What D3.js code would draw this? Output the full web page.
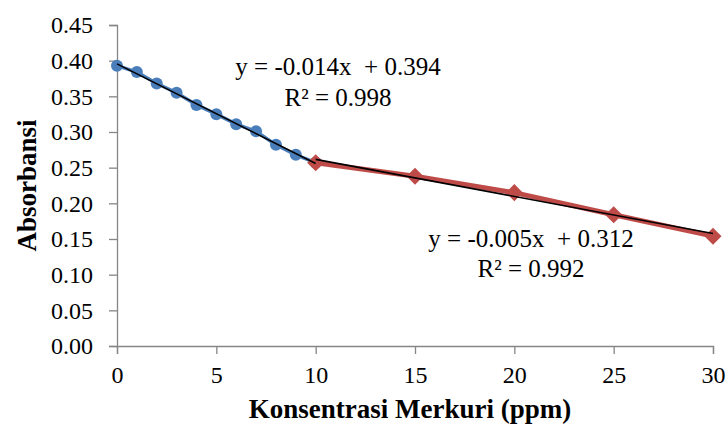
<!DOCTYPE html>
<html>
<head>
<meta charset="utf-8">
<script src="https://cdn.jsdelivr.net/npm/d3@7"></script>
<style>
  body { margin: 0; background: #fff; }
</style>
</head>
<body>
<div id="chart"></div>
<script>
// Data
const blueX = [0, 1, 2, 3, 4, 5, 6, 7, 8, 9, 10];
const blueY = [0.393, 0.384, 0.368, 0.355, 0.338, 0.325, 0.311, 0.301, 0.282, 0.268, 0.257];
const redX = [10, 15, 20, 25, 30];
const redY = [0.257, 0.238, 0.215, 0.184, 0.154];
const xTicks = [0, 5, 10, 15, 20, 25, 30];
const yTicks = [0, 0.05, 0.10, 0.15, 0.20, 0.25, 0.30, 0.35, 0.40, 0.45];
const blueLabel = ["y = -0.014x  + 0.394", "R² = 0.998"];
const redLabel = ["y = -0.005x  + 0.312", "R² = 0.992"];

const FONT = "'Liberation Serif', 'DejaVu Serif', serif";

const W = 728, H = 432;
const margin = { top: 25, right: 15, bottom: 86, left: 117 };
const width = W - margin.left - margin.right,
      height = H - margin.top - margin.bottom;

const svg = d3.select("#chart")
  .append("svg")
    .attr("width", W)
    .attr("height", H)
    .style("font-family", FONT)
  .append("g")
    .attr("transform", `translate(${margin.left},${margin.top})`);

const x = d3.scaleLinear().domain([0, 30]).range([0, width]);
const y = d3.scaleLinear().domain([0, 0.45]).range([height, 0]);

// Y axis
const yAxis = svg.append("g")
  .call(d3.axisLeft(y).tickValues(yTicks).tickFormat(d3.format(".2f")).tickSize(8).tickPadding(16))
  .attr("font-family", null)
  .attr("font-size", null);
yAxis.select(".domain").attr("stroke", "#868686").attr("stroke-width", 1.3);
yAxis.selectAll(".tick line").attr("stroke", "#868686").attr("stroke-width", 1.3);
yAxis.selectAll("text").attr("fill", "#000").style("font-size", "24px").style("font-family", FONT);

// X axis
const xAxis = svg.append("g")
  .attr("transform", `translate(0,${height})`)
  .call(d3.axisBottom(x).tickValues(xTicks).tickSize(8).tickPadding(12))
  .attr("font-family", null)
  .attr("font-size", null);
xAxis.select(".domain").attr("stroke", "#868686").attr("stroke-width", 1.3);
xAxis.selectAll(".tick line").attr("stroke", "#868686").attr("stroke-width", 1.3);
xAxis.selectAll("text").attr("fill", "#000").style("font-size", "24px").style("font-family", FONT);

// Axis titles
svg.append("text")
  .attr("transform", `translate(${-81},${height / 2}) rotate(-90)`)
  .attr("text-anchor", "middle")
  .style("font-family", FONT)
  .style("font-size", "27px")
  .style("font-weight", "bold")
  .text("Absorbansi");

svg.append("text")
  .attr("x", width / 2 - 5)
  .attr("y", height + 72)
  .attr("text-anchor", "middle")
  .style("font-family", FONT)
  .style("font-size", "27px")
  .style("font-weight", "bold")
  .text("Konsentrasi Merkuri (ppm)");

// Series
const line = d3.line().x(d => x(d[0])).y(d => y(d[1]));
const bluePts = blueX.map((v, i) => [v, blueY[i]]);
const redPts = redX.map((v, i) => [v, redY[i]]);

svg.append("path")
  .datum(bluePts)
  .attr("fill", "none")
  .attr("stroke", "#4a7ebb")
  .attr("stroke-width", 3.5)
  .attr("d", line);

svg.append("g").selectAll("circle")
  .data(bluePts)
  .join("circle")
    .attr("cx", d => x(d[0]))
    .attr("cy", d => y(d[1]))
    .attr("r", 6)
    .attr("fill", "#4a7ebb");

svg.append("path")
  .datum(redPts)
  .attr("fill", "none")
  .attr("stroke", "#be4b48")
  .attr("stroke-width", 5)
  .attr("d", line);

svg.append("g").selectAll("path")
  .data(redPts)
  .join("path")
    .attr("transform", d => `translate(${x(d[0])},${y(d[1])})`)
    .attr("d", d3.symbol(d3.symbolDiamond2, 185))
    .attr("fill", "#be4b48");

// Linear trendlines (least squares over each series)
function fit(pts) {
  const mx = d3.mean(pts, d => d[0]), my = d3.mean(pts, d => d[1]);
  const b = d3.sum(pts, d => (d[0] - mx) * (d[1] - my)) / d3.sum(pts, d => (d[0] - mx) ** 2);
  const a = my - b * mx;
  const x0 = d3.min(pts, d => d[0]), x1 = d3.max(pts, d => d[0]);
  return [[x0, a + b * x0], [x1, a + b * x1]];
}

[bluePts, redPts].forEach(pts => {
  svg.append("path")
    .datum(fit(pts))
    .attr("fill", "none")
    .attr("stroke", "#000")
    .attr("stroke-width", 1.6)
    .attr("d", line);
});

// Equation labels
function eqLabel(lines, cx, base, gap) {
  const g = svg.append("g");
  lines.forEach((t, i) => {
    g.append("text")
      .attr("x", cx)
      .attr("y", base + i * gap)
      .attr("text-anchor", "middle")
      .style("font-family", FONT)
      .style("font-size", "25px")
      .style("white-space", "pre")
      .text(t);
  });
}
eqLabel(blueLabel, 338 - margin.left, 75 - margin.top, 31);
eqLabel(redLabel, 531 - margin.left, 247 - margin.top, 30);
</script>
</body>
</html>
